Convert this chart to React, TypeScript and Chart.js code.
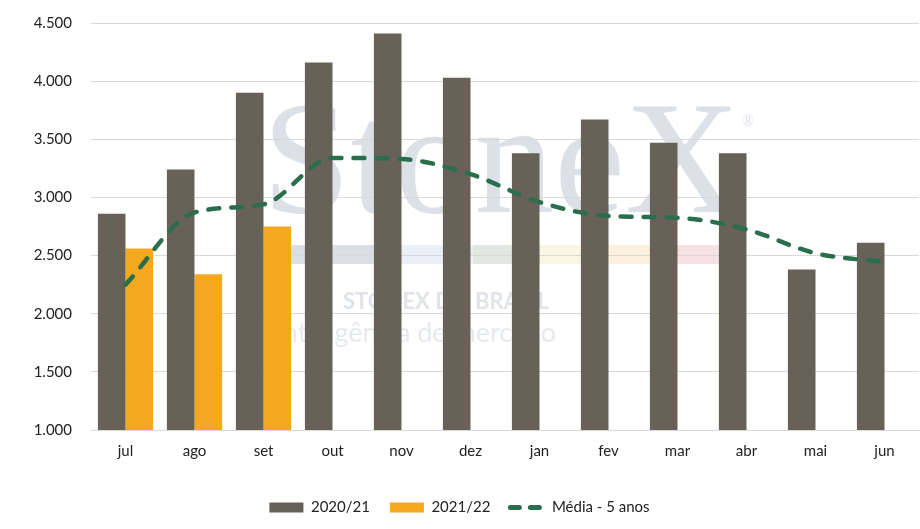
import React, { useEffect, useRef } from 'react';
import { Chart, registerables } from 'chart.js';

Chart.register(...registerables);

const categories = ['jul', 'ago', 'set', 'out', 'nov', 'dez', 'jan', 'fev', 'mar', 'abr', 'mai', 'jun'];
const safra2020 = [2860, 3240, 3900, 4160, 4410, 4030, 3380, 3670, 3470, 3380, 2380, 2610];
const safra2021 = [2560, 2340, 2750, null, null, null, null, null, null, null, null, null];
const media5anos = [2250, 2870, 2940, 3340, 3330, 3200, 2960, 2840, 2825, 2725, 2520, 2445];
const yTicks = [1000, 1500, 2000, 2500, 3000, 3500, 4000, 4500];

const GRAY = '#686158';
const ORANGE = '#F4A81D';
const GREEN = '#2B6E4E';
const FONT = 'Lato, "Noto Sans", sans-serif';
const SERIF = '"Liberation Serif", "Times New Roman", serif';

// faint StoneX logo behind the plot
const watermark = {
  id: 'watermark',
  beforeDraw(chart: Chart) {
    const ctx = chart.ctx;
    ctx.save();
    ctx.fillStyle = '#DCE1E7';
    ctx.font = '162px ' + SERIF;
    ctx.textBaseline = 'alphabetic';
    ctx.textAlign = 'left';
    ctx.fillText('StoneX', 262, 212, 478);
    ctx.font = '16px ' + SERIF;
    ctx.fillText('®', 742, 126);

    const stripes: [number, number, string][] = [
      [265, 400, '#DADFE6'],
      [400, 473, '#EAF0F7'],
      [473, 540, '#DFE9E2'],
      [540, 610, '#FBF6E3'],
      [610, 677, '#FDF0DE'],
      [677, 720, '#F7E1E2'],
    ];
    stripes.forEach(([a, b, c]) => {
      ctx.fillStyle = c;
      ctx.fillRect(a, 245, b - a, 19);
    });

    ctx.fillStyle = '#E0E4E9';
    ctx.textAlign = 'right';
    ctx.textBaseline = 'middle';
    ctx.font = 'bold 22px ' + FONT;
    ctx.fillText('STONEX DO BRASIL', 549, 302);
    ctx.fillStyle = '#E6E9ED';
    ctx.font = '27px ' + FONT;
    ctx.fillText('Inteligência de mercado', 556, 333);
    ctx.restore();
  },
};

const App = () => {
  const chartRef = useRef<HTMLCanvasElement>(null);
  const chartInstance = useRef<Chart | null>(null);

  useEffect(() => {
    document.body.style.margin = '0';
    if (!chartRef.current) return;
    if (chartInstance.current) chartInstance.current.destroy();

    chartInstance.current = new Chart(chartRef.current, {
      type: 'bar',
      data: {
        labels: categories,
        datasets: [
          {
            label: '2020/21',
            data: safra2020,
            backgroundColor: GRAY,
            order: 1,
            categoryPercentage: 0.8,
            barPercentage: 1.0,
          },
          {
            label: '2021/22',
            data: safra2021,
            backgroundColor: ORANGE,
            order: 1,
            categoryPercentage: 0.8,
            barPercentage: 1.0,
          },
          {
            type: 'line',
            label: 'Média - 5 anos',
            data: media5anos,
            borderColor: GREEN,
            backgroundColor: GREEN,
            borderWidth: 4.5,
            borderDash: [11, 12],
            borderCapStyle: 'round',
            pointRadius: 0,
            cubicInterpolationMode: 'monotone',
            fill: false,
            order: 0,
          } as any,
        ],
      },
      options: {
        animation: false,
        responsive: true,
        maintainAspectRatio: false,
        layout: { padding: { top: 23, right: 1, left: 0, bottom: 4 } },
        plugins: {
          tooltip: { enabled: false },
          legend: {
            position: 'bottom',
            labels: {
              usePointStyle: true,
              pointStyleWidth: 34,
              boxHeight: 10,
              padding: 20,
              color: '#222',
              font: { family: FONT, size: 15 },
              sort: (a: any, b: any) => a.datasetIndex - b.datasetIndex,
              generateLabels: (chart: Chart) => {
                const items = Chart.defaults.plugins.legend.labels.generateLabels(chart);
                return items.map((it: any) =>
                  it.datasetIndex === 2
                    ? { ...it, pointStyle: 'line', lineWidth: 5, lineDash: [9, 11], lineCap: 'round', strokeStyle: GREEN, fillStyle: GREEN }
                    : { ...it, pointStyle: 'rect', lineWidth: 0 }
                );
              },
            },
          },
        },
        scales: {
          x: {
            grid: { display: false },
            border: { display: true, color: '#D9D9D9' },
            ticks: { color: '#222', font: { family: FONT, size: 15 }, padding: 4 },
            afterFit: (scale: any) => {
              scale.height = scale.height + 16;
            },
          },
          y: {
            min: 1000,
            max: 4500,
            afterFit: (scale: any) => {
              scale.width = 91;
              scale.paddingTop = 0;
              scale.paddingBottom = 0;
            },
            afterBuildTicks: (scale: any) => {
              scale.ticks = yTicks.map((v) => ({ value: v }));
            },
            grid: { color: '#D9D9D9', drawTicks: false },
            border: { display: false },
            ticks: {
              color: '#222',
              padding: 19,
              font: { family: FONT, size: 15 },
              callback: (v: any) => Number(v).toLocaleString('pt-BR'),
            },
          },
        },
      },
      plugins: [watermark],
    });

    return () => {
      if (chartInstance.current) {
        chartInstance.current.destroy();
        chartInstance.current = null;
      }
    };
  }, []);

  return (
    <div style={{ position: 'relative', width: 920, height: 529, background: '#fff' }}>
      <canvas ref={chartRef}></canvas>
    </div>
  );
};

export default App;
